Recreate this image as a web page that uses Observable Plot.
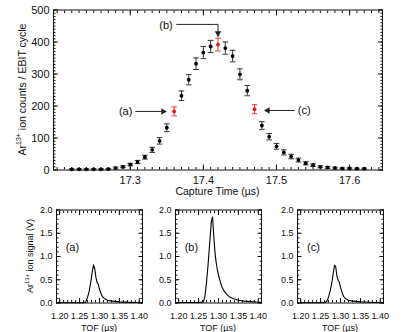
<!DOCTYPE html>
<html><head><meta charset="utf-8">
<script src="https://cdn.jsdelivr.net/npm/d3@7"></script>
<script src="https://cdn.jsdelivr.net/npm/@observablehq/plot@0.6"></script>
<style>
html,body{margin:0;padding:0;background:#fff;}
#chart{position:relative;width:415px;height:332px;overflow:hidden;font-family:"Liberation Sans",Arial,sans-serif;}
#chart svg{position:absolute;background:transparent;overflow:visible;}
</style></head><body><div id="chart"></div>
<script>
// ---- Top panel data ----
const captureTime = [17.22,17.23,17.24,17.25,17.26,17.27,17.28,17.29,17.30,17.31,
  17.32,17.33,17.34,17.35,17.36,17.37,17.38,17.39,17.40,17.41,
  17.42,17.43,17.44,17.45,17.46,17.47,17.48,17.49,17.50,17.51,
  17.52,17.53,17.54,17.55,17.56,17.57,17.58,17.59,17.60,17.61,17.62];
const ionCounts = [2,2,2,2,2,3,6,10,17,25,
  40,63,91,132,183,232,282,332,367,386,
  392,381,356,299,248,190,139,104,74,55,
  42,31,21,15,10,8,6,5,5,4,4];
const countErrors = [2,2,2,2,2,2,3,3,4,5,
  6,8,10,12,14,15,16,18,19,19,
  20,19,18,17,16,14,12,10,9,8,
  7,6,5,4,3,3,3,2,2,2,2];
const markedLabels = ["(a)","(b)","(c)"];
const markedTimes = [17.36,17.42,17.47];
const countTicks = [0,100,200,300,400,500];
const timeTicks = [17.3,17.4,17.5,17.6];
// arrows (data units)
const arrowA = {label:"(a)", x1:17.307, x2:17.349, y:183};
const arrowB = {label:"(b)", x1:17.3635, x2:17.42, y:455, yTip:418};
const arrowC = {label:"(c)", x1:17.525, x2:17.484, y:186};

// ---- Bottom panels data ----
const tof = [1.195,1.22,1.25,1.262,1.266,1.270,1.274,1.278,1.282,1.285,1.288,1.291,1.294,1.297,1.300,1.304,1.308,1.313,1.320,1.328,1.338,1.350,1.365,1.380,1.395,1.407];
const signalA = [0.005,0.005,0.005,0.006,0.03,0.12,0.25,0.45,0.68,0.82,0.74,0.55,0.44,0.40,0.30,0.20,0.13,0.09,0.06,0.045,0.035,0.025,0.018,0.012,0.01,0.01];
const signalB = [0.01,0.01,0.01,0.02,0.15,0.45,0.85,1.30,1.75,1.85,1.45,1.10,0.88,0.72,0.60,0.47,0.36,0.27,0.19,0.13,0.09,0.06,0.04,0.03,0.02,0.015];
const signalC = [0.005,0.005,0.005,0.01,0.04,0.13,0.26,0.42,0.65,0.81,0.78,0.58,0.49,0.45,0.34,0.22,0.14,0.09,0.06,0.045,0.035,0.025,0.02,0.012,0.01,0.008];
const signalTicks = [0,0.5,1.0,1.5,2.0];
const tofTicks = [1.20,1.25,1.30,1.35,1.40];

const FONT = '"Liberation Sans", Arial, sans-serif';
const INK = "#111";
const RED = "#e8141c";

const topData = captureTime.map((t,i)=>({t, c:ionCounts[i], e:countErrors[i], marked: markedTimes.some(m=>Math.abs(m-t)<1e-6)}));
const black = topData.filter(d=>!d.marked), red = topData.filter(d=>d.marked);

const capSymbol = {draw(ctx, size){const r=Math.sqrt(size/Math.PI); ctx.moveTo(-r,0); ctx.lineTo(r,0);}};

function errMarks(data, color, barColor){
  return [
    Plot.ruleX(data,{x:"t", y1:d=>d.c-d.e, y2:d=>d.c+d.e, stroke:barColor, strokeWidth:1}),
    Plot.dot(data,{x:"t", y:d=>d.c-d.e, symbol:capSymbol, r:2.8, stroke:barColor, fill:"none", strokeWidth:1}),
    Plot.dot(data,{x:"t", y:d=>d.c+d.e, symbol:capSymbol, r:2.8, stroke:barColor, fill:"none", strokeWidth:1}),
    Plot.dot(data,{x:"t", y:"c", r:1.9, fill:color, stroke:"none"})
  ];
}

const minorY = d3.range(0,501,10);
const minorX = d3.range(0,45).map(i=>+(17.20+i*0.01).toFixed(2));

const topPlot = Plot.plot({
  width:415, height:200,
  marginLeft:53, marginRight:33, marginTop:9.5, marginBottom:30.5,
  x:{domain:[17.195,17.645]},
  y:{domain:[0,500]},
  style:{fontFamily:FONT, fontSize:"11px", color:INK, background:"transparent", overflow:"visible"},
  marks:[
    Plot.axisY(minorY,{anchor:"left", tickSize:-2.5, fill:"none", label:null}),
    Plot.axisY(minorY,{anchor:"right", tickSize:-2.5, fill:"none", label:null}),
    Plot.axisY(countTicks,{anchor:"left", tickSize:-5, fill:"none", label:null}),
    Plot.axisY(countTicks,{anchor:"right", tickSize:-5, fill:"none", label:null}),
    Plot.axisY(countTicks,{anchor:"left", tickSize:0, tickPadding:4, label:null, stroke:"none"}),
    Plot.axisX(minorX,{anchor:"bottom", tickSize:-2.5, fill:"none", label:null}),
    Plot.axisX(minorX,{anchor:"top", tickSize:-2.5, fill:"none", label:null}),
    Plot.axisX(timeTicks,{anchor:"bottom", tickSize:-5, fill:"none", label:null}),
    Plot.axisX(timeTicks,{anchor:"top", tickSize:-5, fill:"none", label:null}),
    Plot.axisX(timeTicks,{anchor:"bottom", tickSize:0, tickPadding:6, label:null, stroke:"none", tickFormat:d=>d.toFixed(1)}),
    Plot.frame({stroke:INK, strokeWidth:1}),
    ...errMarks(black, "#000", "#333"),
    ...errMarks(red, RED, "#ee3a3a"),
    // arrows
    Plot.link([arrowA],{x1:"x1", x2:"x2", y1:"y", y2:"y", stroke:"#222", strokeWidth:1}),
    Plot.dot([arrowA],{x:"x2", y:"y", symbol:"triangle", rotate:90, r:2.4, fill:"#222", dx:-3}),
    Plot.text([arrowA],{x:"x1", y:"y", text:"label", textAnchor:"end", dx:-3, fontSize:11}),
    Plot.line([{x:arrowB.x1,y:arrowB.y},{x:arrowB.x2,y:arrowB.y},{x:arrowB.x2,y:arrowB.yTip}],{x:"x", y:"y", stroke:"#222", strokeWidth:1}),
    Plot.dot([arrowB],{x:"x2", y:"yTip", symbol:"triangle", rotate:180, r:2.4, fill:"#222", dy:-3}),
    Plot.text([arrowB],{x:"x1", y:"y", text:"label", textAnchor:"end", dx:-4, dy:1, fontSize:11}),
    Plot.link([arrowC],{x1:"x1", x2:"x2", y1:"y", y2:"y", stroke:"#222", strokeWidth:1}),
    Plot.dot([arrowC],{x:"x2", y:"y", symbol:"triangle", rotate:270, r:2.4, fill:"#222", dx:3}),
    Plot.text([arrowC],{x:"x1", y:"y", text:"label", textAnchor:"start", dx:3, fontSize:11})
  ]
});
topPlot.style.left="0px"; topPlot.style.top="0px";
document.getElementById("chart").appendChild(topPlot);
{
  const s = d3.select(topPlot);
  const t = s.append("text").attr("transform","translate(25.5,89.5) rotate(-90)")
    .attr("text-anchor","middle").attr("font-size","10.5px").attr("font-family",FONT).attr("fill",INK);
  t.append("tspan").text("Ar");
  t.append("tspan").attr("font-size","7px").attr("dy","-4.5").text("13+");
  t.append("tspan").attr("dy","4.5").text(" ion counts / EBIT cycle");
  s.append("text").attr("x",217.5).attr("y",194.5).attr("text-anchor","middle")
    .attr("font-size","10.5px").attr("font-family",FONT).attr("fill",INK).text("Capture Time (µs)");
}

// ---- Bottom panels ----
const minorS = d3.range(0,21).map(i=>+(i*0.1).toFixed(1));
const minorT = d3.range(0,22).map(i=>+(1.20+i*0.01).toFixed(2)).filter(v=>v<=1.407);
const panels = [
  {sig:signalA, label:"(a)", left:0, width:150, ml:56, mr:8, ylab:true},
  {sig:signalB, label:"(b)", left:150, width:122, ml:25, mr:11, ylab:false},
  {sig:signalC, label:"(c)", left:272, width:143, ml:25, mr:32, ylab:false}
];
for (const p of panels){
  const rows = tof.map((x,i)=>({x, v:p.sig[i]}));
  const svg = Plot.plot({
    width:p.width, height:132,
    marginLeft:p.ml, marginRight:p.mr, marginTop:9.5, marginBottom:29.5,
    x:{domain:[1.192,1.408]},
    y:{domain:[0,2]},
    style:{fontFamily:FONT, fontSize:"9px", color:INK, background:"transparent", overflow:"visible"},
    marks:[
      Plot.axisY(minorS,{anchor:"left", tickSize:-2.5, fill:"none", label:null}),
      Plot.axisY(minorS,{anchor:"right", tickSize:-2.5, fill:"none", label:null}),
      Plot.axisY(signalTicks,{anchor:"left", tickSize:-4.5, fill:"none", label:null}),
      Plot.axisY(signalTicks,{anchor:"right", tickSize:-4.5, fill:"none", label:null}),
      Plot.axisY(signalTicks,{anchor:"left", tickSize:0, tickPadding:4, label:null, stroke:"none", tickFormat:d=>d.toFixed(1)}),
      Plot.axisX(minorT,{anchor:"bottom", tickSize:-2.5, fill:"none", label:null}),
      Plot.axisX(minorT,{anchor:"top", tickSize:-2.5, fill:"none", label:null}),
      Plot.axisX(tofTicks,{anchor:"bottom", tickSize:-4.5, fill:"none", label:null}),
      Plot.axisX(tofTicks,{anchor:"top", tickSize:-4.5, fill:"none", label:null}),
      Plot.axisX(tofTicks,{anchor:"bottom", tickSize:0, tickPadding:10, label:null, stroke:"none", tickFormat:d=>d.toFixed(2)}),
      Plot.frame({stroke:INK, strokeWidth:1}),
      Plot.line(rows,{x:"x", y:"v", stroke:"#000", strokeWidth:1.1}),
      Plot.text([p.label],{x:1.232, y:1.2, text:d=>d, fontSize:11, textAnchor:"middle"})
    ]
  });
  svg.style.left=p.left+"px"; svg.style.top="200px";
  document.getElementById("chart").appendChild(svg);
  const s = d3.select(svg);
  const cx = p.ml + (p.width-p.ml-p.mr)/2;
  s.append("text").attr("x",cx).attr("y",130.5).attr("text-anchor","middle")
    .attr("font-size","9px").attr("font-family",FONT).attr("fill",INK).text("TOF (µs)");
  if (p.ylab){
    const t = s.append("text").attr("transform","translate(33,56) rotate(-90)")
      .attr("text-anchor","middle").attr("font-size","9px").attr("font-family",FONT).attr("fill",INK);
    t.append("tspan").text("Ar");
    t.append("tspan").attr("font-size","6px").attr("dy","-4").text("13+");
    t.append("tspan").attr("dy","4").text(" ion signal (V)");
  }
}
</script></body></html>
